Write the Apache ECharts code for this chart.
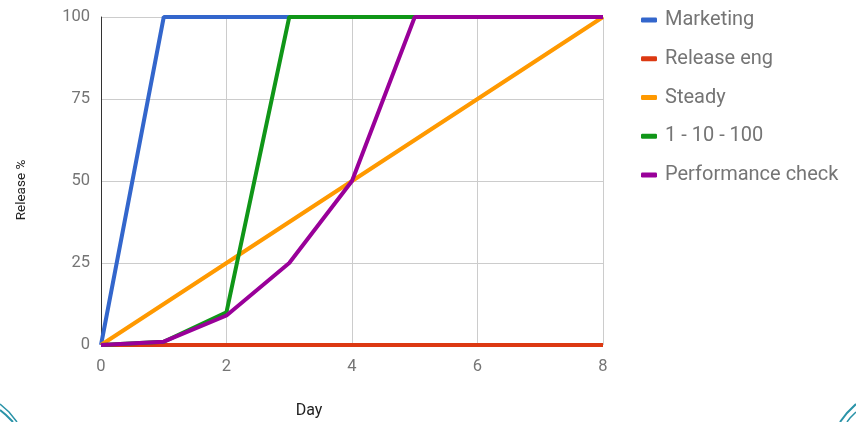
<!DOCTYPE html>
<html><head><meta charset="utf-8">
<script src="https://cdn.jsdelivr.net/npm/echarts@6/dist/echarts.min.js"></script>
<style>html,body{margin:0;padding:0;background:#fff}#c{width:856px;height:422px}</style>
</head><body><div id="c"></div>
<script>
const days = [0, 1, 2, 3, 4, 5, 6, 7, 8];
const marketing = [0, 100, 100, 100, 100, 100, 100, 100, 100];
const releaseEng = [0, 0, 0, 0, 0, 0, 0, 0, 0];
const steady = [0, 12.5, 25, 37.5, 50, 62.5, 75, 87.5, 100];
const oneTenHundred = [0, 1, 10, 100, 100, 100, 100, 100, 100];
const perfCheck = [0, 1, 9, 25, 50, 100, 100, 100, 100];
const yTicks = [0, 25, 50, 75, 100];
const xTicks = [0, 2, 4, 6, 8];
const seriesNames = ['Marketing', 'Release eng', 'Steady', '1 - 10 - 100', 'Performance check'];
const seriesData = [marketing, releaseEng, steady, oneTenHundred, perfCheck];
const colors = ['#3366cc', '#dc3912', '#ff9900', '#109618', '#990099'];
const zOrder = [3, 2, 4, 5, 6];

const chart = echarts.init(document.getElementById('c'));
chart.setOption({
  animation: false,
  color: colors,
  textStyle: { fontFamily: 'Roboto' },
  grid: { left: 101, right: 253, top: 17, bottom: 77, containLabel: false },
  legend: {
    orient: 'vertical', left: 636, top: 4,
    icon: 'roundRect', itemWidth: 16, itemHeight: 5, itemGap: 16.75,
    textStyle: { fontSize: 20, color: '#757575', lineHeight: 22, padding: [0, 0, 0, 3], fontFamily: 'Roboto' },
    data: seriesNames
  },
  xAxis: {
    type: 'value', min: 0, max: 8, interval: 2,
    axisLine: { show: false },
    axisTick: { show: false },
    splitLine: { show: true, lineStyle: { color: '#cccccc', width: 1 } },
    axisLabel: { color: '#757575', fontSize: 16.5, margin: 13 }
  },
  yAxis: {
    type: 'value', min: 0, max: 100, interval: 25,
    axisLine: { show: true, lineStyle: { color: '#333333', width: 1 } },
    axisTick: { show: false },
    splitLine: { show: true, lineStyle: { color: '#cccccc', width: 1 } },
    axisLabel: { color: '#757575', fontSize: 16.5, margin: 11 }
  },
  graphic: [
    { type: 'text', x: 22, y: 190, rotation: Math.PI / 2,
      style: { text: 'Release %', fill: '#222222', fontSize: 13.5, fontFamily: 'Roboto', textAlign: 'center', textVerticalAlign: 'middle' } },
    { type: 'text', x: 309, y: 411,
      style: { text: 'Day', fill: '#222222', fontSize: 16, fontFamily: 'Roboto', textAlign: 'center', textVerticalAlign: 'middle' } },
    { type: 'polyline', shape: { points: [[0, 410], [6, 415], [13, 422]] }, style: { stroke: '#2a93a8', lineWidth: 2, fill: null } },
    { type: 'polyline', shape: { points: [[0, 404], [9, 412], [17, 422]] }, style: { stroke: '#2a93a8', lineWidth: 1.5, fill: null } },
    { type: 'polyline', shape: { points: [[856, 404], [847, 413], [840, 422]] }, style: { stroke: '#2a93a8', lineWidth: 2, fill: null } },
    { type: 'polyline', shape: { points: [[856, 412], [850, 418], [847, 422]] }, style: { stroke: '#2a93a8', lineWidth: 1.5, fill: null } }
  ],
  series: seriesNames.map((n, i) => ({
    name: n, type: 'line', z: zOrder[i],
    data: days.map((d, j) => [d, seriesData[i][j]]),
    showSymbol: false, symbol: 'none',
    lineStyle: { width: 4, color: colors[i] },
    itemStyle: { color: colors[i] }
  }))
});
</script></body></html>
